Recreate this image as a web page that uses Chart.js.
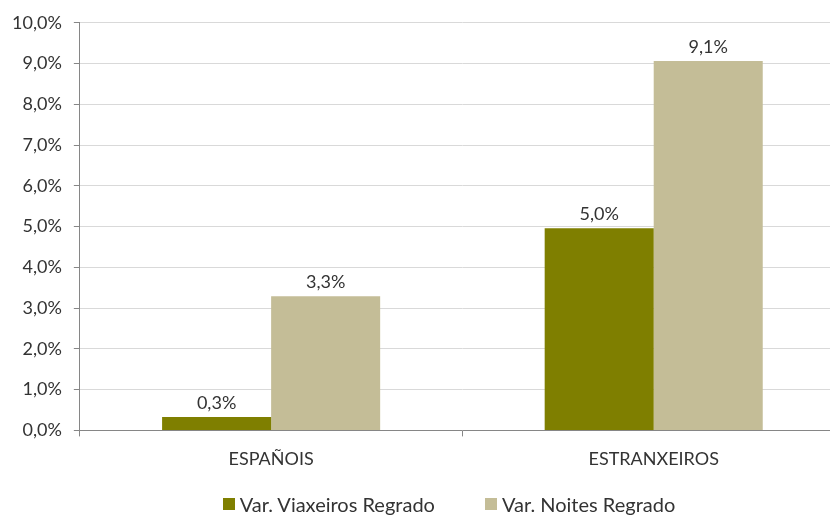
<!DOCTYPE html>
<html>
<head>
<meta charset="utf-8">
<script src="https://cdn.jsdelivr.net/npm/chart.js@4"></script>
<style>
    html, body { margin: 0; padding: 0; background: #fff; overflow: hidden; width: 830px; height: 515px; }
    #wrap { position: relative; width: 850px; height: 515px; }
    #legend {
        position: absolute; left: 0; top: 492px; width: 898px;
        display: flex; justify-content: center; gap: 50px;
        font-family: Lato, sans-serif; font-size: 20px; color: #333;
    }
    #legend span.item { display: flex; align-items: center; white-space: nowrap; }
    #legend span.box { display: inline-block; width: 12px; height: 12px; margin-right: 5px; }
</style>
</head>
<body>
<div id="wrap">
    <canvas id="varChart" width="850" height="515"></canvas>
    <div id="legend"></div>
</div>
<script>
const categories = ['ESPAÑOIS', 'ESTRANXEIROS'];
const seriesNames = ['Var. Viaxeiros Regrado', 'Var. Noites Regrado'];
const viaxeiros = [0.33, 4.96];
const noites = [3.29, 9.06];
const yTicks = [0, 1, 2, 3, 4, 5, 6, 7, 8, 9, 10];

const fmt = v => v.toFixed(1).replace('.', ',') + '%';

const valueLabels = {
    id: 'valueLabels',
    afterDatasetsDraw(chart) {
        const ctx = chart.ctx;
        ctx.save();
        ctx.font = '18px Lato, sans-serif';
        ctx.fillStyle = '#333';
        ctx.textAlign = 'center';
        ctx.textBaseline = 'bottom';
        chart.data.datasets.forEach((ds, i) => {
            chart.getDatasetMeta(i).data.forEach((bar, j) => {
                ctx.fillText(fmt(ds.data[j]), bar.x, bar.y - 5);
            });
        });
        ctx.restore();
    }
};

document.addEventListener('DOMContentLoaded', () => {
    const ctx = document.getElementById('varChart').getContext('2d');
    const chart = new Chart(ctx, {
        type: 'bar',
        data: {
            labels: categories,
            datasets: [{
                label: seriesNames[0],
                data: viaxeiros,
                backgroundColor: '#7f7f00'
            }, {
                label: seriesNames[1],
                data: noites,
                backgroundColor: '#c4bd97'
            }]
        },
        options: {
            responsive: false,
            animation: false,
            layout: { padding: { top: 16, right: 5, bottom: 33, left: 0 } },
            plugins: {
                legend: { display: false },
                tooltip: { enabled: false }
            },
            datasets: {
                bar: { categoryPercentage: 0.57, barPercentage: 1 }
            },
            scales: {
                x: {
                    grid: { offset: true, drawOnChartArea: false, tickLength: 6, tickColor: '#868686' },
                    border: { color: '#868686' },
                    ticks: { color: '#333', font: { family: 'Lato', size: 18 }, padding: 12 }
                },
                y: {
                    min: 0,
                    max: 10,
                    afterBuildTicks: axis => { axis.ticks = yTicks.map(v => ({ value: v })); },
                    grid: { color: '#d9d9d9', tickLength: 6, tickColor: '#868686' },
                    border: { color: '#868686' },
                    ticks: { color: '#333', font: { family: 'Lato', size: 18 }, padding: 12, callback: v => fmt(v) }
                }
            }
        },
        plugins: [valueLabels]
    });

    const legend = document.getElementById('legend');
    chart.data.datasets.forEach(ds => {
        const item = document.createElement('span');
        item.className = 'item';
        item.innerHTML = `<span class="box" style="background:${ds.backgroundColor}"></span>${ds.label}`;
        legend.appendChild(item);
    });
});
</script>
</body>
</html>
